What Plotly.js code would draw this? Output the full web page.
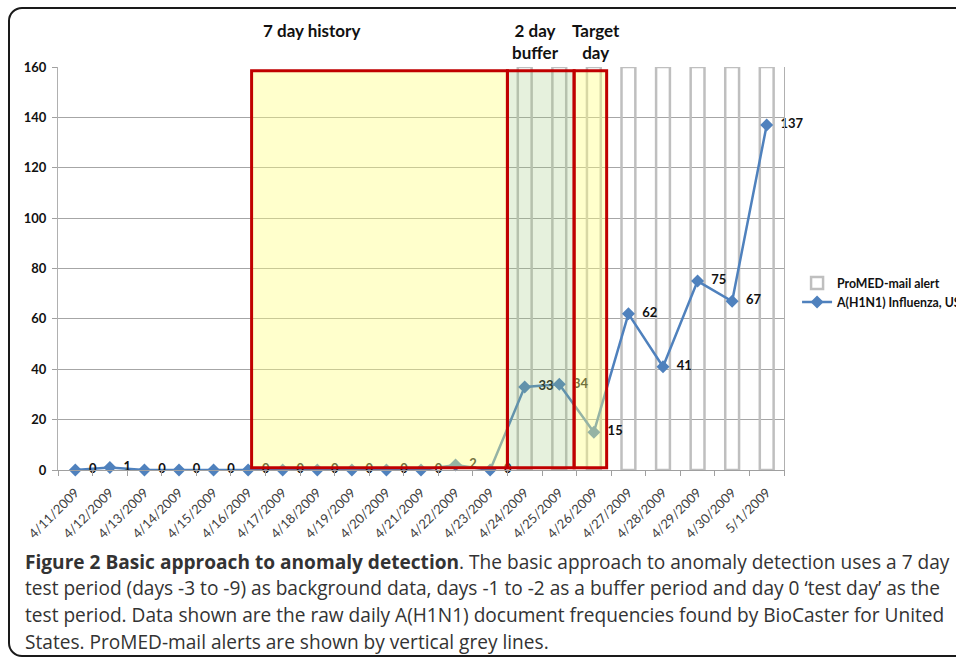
<!DOCTYPE html>
<html>
<head>
<meta charset="utf-8">
<script src="https://cdn.plot.ly/plotly-3.0.1.min.js"></script>
<style>
  html, body { margin: 0; padding: 0; background: #fff; overflow: hidden; }
  #wrap { position: relative; width: 956px; height: 659px; }
  #chart { position: absolute; left: 0; top: 0; width: 956px; height: 659px; }
  #frame { position: absolute; left: 8px; top: 7px; width: 1000px; height: 650px;
           border: 2px solid #1a1a1a; border-radius: 14px; box-sizing: border-box;
           pointer-events: none; }
</style>
</head>
<body>
<div id="wrap">
  <div id="chart"></div>
  <div id="frame"></div>
</div>
<script>
// ---- data ----
const dates = ["4/11/2009","4/12/2009","4/13/2009","4/14/2009","4/15/2009","4/16/2009","4/17/2009",
               "4/18/2009","4/19/2009","4/20/2009","4/21/2009","4/22/2009","4/23/2009","4/24/2009",
               "4/25/2009","4/26/2009","4/27/2009","4/28/2009","4/29/2009","4/30/2009","5/1/2009"];
const h1n1Counts = [0,1,0,0,0,0,0,0,0,0,0,2,0,33,34,15,62,41,75,67,137];
const promedAlert = [null,null,null,null,null,null,null,null,null,null,null,null,null,
                     160,160,160,160,160,160,160,160];
const seriesNames = ["ProMED-mail alert", "A(H1N1) Influenza, US"];
const yTicks = [0,20,40,60,80,100,120,140,160];
const periodLabels = ["7 day history", "2 day<br>buffer", "Target<br>day"];
const captionLines = [
  "<b>Figure 2 Basic approach to anomaly detection</b>. The basic approach to anomaly detection uses a 7 day",
  "test period (days -3 to -9) as background data, days -1 to -2 as a buffer period and day 0 \u2018test day\u2019 as the",
  "test period. Data shown are the raw daily A(H1N1) document frequencies found by BioCaster for United",
  "States. ProMED-mail alerts are shown by vertical grey lines."
];

// ---- traces ----
const chartFont = "Lato, 'Open Sans', sans-serif";
const traces = [
  {
    type: "bar", x: dates, y: promedAlert, name: seriesNames[0],
    width: 0.4,
    marker: { color: "rgba(255,255,255,0)", line: { color: "#BFBFBF", width: 2.5 } },
    hoverinfo: "skip"
  },
  {
    type: "scatter", mode: "lines+markers+text", x: dates, y: h1n1Counts, name: seriesNames[1],
    line: { color: "#4F81BD", width: 2.5 },
    marker: { symbol: "diamond", size: 10, color: "#4F81BD" },
    text: h1n1Counts.map(v => "\u2002" + v), textposition: "middle right",
    textfont: { family: chartFont, size: 13, color: "#111", weight: "bold" },
    cliponaxis: false
  }
];

// ---- layout ----
const annFont = { family: chartFont, size: 17, color: "#111", weight: "bold" };
const annotations = [
  { xref: "paper", yref: "paper", x: 0.349, y: 1.09, text: "<b>" + periodLabels[0] + "</b>", showarrow: false, font: annFont, xanchor: "center", yanchor: "middle" },
  { xref: "paper", yref: "paper", x: 0.658, y: 1.064, text: "<b>" + periodLabels[1] + "</b>", showarrow: false, font: annFont, xanchor: "center", yanchor: "middle" },
  { xref: "paper", yref: "paper", x: 0.741, y: 1.064, text: "<b>" + periodLabels[2] + "</b>", showarrow: false, font: annFont, xanchor: "center", yanchor: "middle" }
];
const capY = [-0.2276, -0.2928, -0.3598, -0.4260];
captionLines.forEach((t, i) => {
  annotations.push({
    xref: "paper", yref: "paper", x: -0.048, y: capY[i], text: t, showarrow: false,
    xanchor: "left", yanchor: "middle", align: "left",
    font: { family: "'Open Sans', 'Noto Sans', sans-serif", size: 19.1, color: "#333" }
  });
});

const yellowFill = "rgba(255,255,128,0.4)";
const greenFill = "rgba(155,200,120,0.25)";
const red = "#C00000";
const shapes = [
  { type: "rect", xref: "x", yref: "y", x0: 5.1, x1: 12.5, y0: 0.9, y1: 158.5, layer: "above",
    fillcolor: yellowFill, line: { color: red, width: 3 } },
  { type: "rect", xref: "x", yref: "y", x0: 12.5, x1: 14.43, y0: 0.9, y1: 158.5, layer: "above",
    fillcolor: greenFill, line: { color: red, width: 3 } },
  { type: "rect", xref: "x", yref: "y", x0: 14.43, x1: 15.37, y0: 0.9, y1: 158.5, layer: "above",
    fillcolor: yellowFill, line: { color: red, width: 3 } }
];

const layout = {
  width: 956, height: 659,
  margin: { l: 58, r: 172, t: 67, b: 189, autoexpand: false },
  paper_bgcolor: "rgba(0,0,0,0)", plot_bgcolor: "#fff",
  font: { family: chartFont, color: "#111" },
  showlegend: true,
  legend: { x: 1.018, y: 0.50, xanchor: "left", yanchor: "top",
            font: { family: chartFont, size: 12.3, color: "#111", weight: "bold" },
            bgcolor: "rgba(0,0,0,0)", tracegroupgap: 4 },
  xaxis: {
    type: "category", tickangle: -45, tickson: "boundaries",
    ticks: "outside", ticklen: 5, tickcolor: "#A0A0A0", ticklabelstandoff: 9,
    showline: true, linecolor: "#A0A0A0", linewidth: 1,
    showgrid: false, range: [-0.5, 20.5],
    tickfont: { family: chartFont, size: 13, color: "#404040" }
  },
  yaxis: {
    range: [0, 160], tickvals: yTicks, ticks: "outside", ticklen: 5, tickcolor: "#A0A0A0",
    showline: true, mirror: true, linecolor: "#B0B0B0", linewidth: 1, ticklabelstandoff: 3,
    showgrid: true, gridcolor: "#A6A6A6", gridwidth: 1, zeroline: false,
    tickfont: { family: chartFont, size: 13, color: "#111", weight: "bold" }
  },
  bargap: 0.6,
  shapes: shapes,
  annotations: annotations
};

Plotly.newPlot("chart", traces, layout, { displayModeBar: false, staticPlot: true });
</script>
</body>
</html>
